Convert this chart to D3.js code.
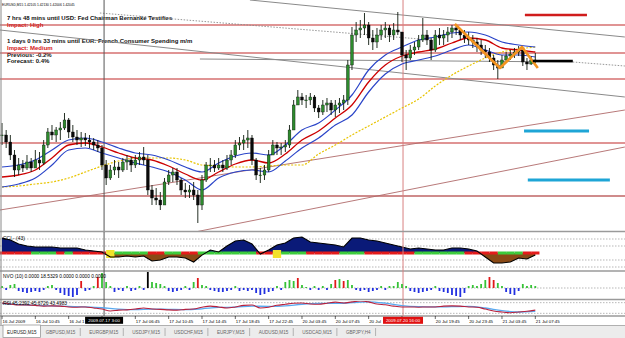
<!DOCTYPE html>
<html><head><meta charset="utf-8">
<script src="https://cdn.jsdelivr.net/npm/d3@7"></script>
<style>body{margin:0;background:#fff;overflow:hidden}svg{display:block}</style>
</head><body>
<script>
// ---------------- DATA ----------------
const symbolTitle = "EURUSD,M15  1.42105 1.42130 1.42006 1.42045";
const eventNotes = [
  ["7 hrs 48 mins until USD: Fed Chairman Bernanke Testifies", "Impact: High"],
  ["1 days 0 hrs 33 mins until EUR: French Consumer Spending m/m", "Impact: Medium", "Previous: -0.2%", "Forecast: 0.4%"]
];
// 30-minute bars (index 0..128)
const barHigh = [1.4143,1.4136,1.4131,1.4116,1.4108,1.4106,1.4111,1.4108,1.4116,1.4114,
1.4126,1.4138,1.4141,1.4139,1.4144,1.4153,1.4148,1.4141,1.4136,1.4134,
1.4133,1.4131,1.4128,1.4126,1.4121,1.4106,1.4101,1.4106,1.4104,1.4108,
1.4111,1.4109,1.4111,1.4114,1.4119,1.4111,1.4081,1.4078,1.4074,1.4088,
1.4096,1.4098,1.4098,1.4088,1.4083,1.4081,1.4084,1.4076,1.4091,1.4104,
1.4108,1.4106,1.4108,1.4106,1.4111,1.4116,1.4126,1.4129,1.4131,1.4136,
1.4131,1.4108,1.4098,1.4101,1.4116,1.4126,1.4124,1.4123,1.4126,1.4141,
1.4166,1.4176,1.4173,1.4171,1.4173,1.4171,1.4161,1.4166,1.4168,1.4166,
1.4166,1.4168,1.4171,1.4206,1.4239,1.4244,1.4246,1.4253,1.4244,1.4236,
1.4238,1.4241,1.4244,1.4241,1.4243,1.4254,1.4226,1.4216,1.4221,1.4224,
1.4231,1.4248,1.4236,1.4228,1.4236,1.4238,1.4236,1.4239,1.4241,1.4242,
1.4238,1.4236,1.4234,1.4231,1.4228,1.4226,1.4221,1.4218,1.4211,1.4206,
1.4211,1.4214,1.4216,1.4218,1.4220,1.4216,1.4208,1.4210,1.4213];
const barLow = [1.4121,1.4118,1.4106,1.4089,1.4091,1.4094,1.4096,1.4094,1.4098,1.4096,
1.4101,1.4118,1.4126,1.4124,1.4126,1.4136,1.4128,1.4124,1.4121,1.4119,
1.4120,1.4118,1.4116,1.4114,1.4096,1.4081,1.4086,1.4091,1.4088,1.4094,
1.4096,1.4094,1.4098,1.4101,1.4101,1.4071,1.4061,1.4061,1.4056,1.4061,
1.4081,1.4084,1.4081,1.4071,1.4068,1.4068,1.4066,1.4043,1.4056,1.4084,
1.4094,1.4094,1.4096,1.4094,1.4096,1.4101,1.4108,1.4116,1.4116,1.4118,
1.4101,1.4086,1.4083,1.4086,1.4094,1.4111,1.4111,1.4111,1.4114,1.4118,
1.4136,1.4161,1.4161,1.4158,1.4161,1.4154,1.4148,1.4151,1.4154,1.4151,
1.4149,1.4153,1.4156,1.4161,1.4196,1.4224,1.4228,1.4231,1.4221,1.4216,
1.4218,1.4226,1.4228,1.4224,1.4226,1.4231,1.4204,1.4196,1.4206,1.4211,
1.4216,1.4224,1.4221,1.4206,1.4214,1.4221,1.4221,1.4224,1.4228,1.4231,
1.4226,1.4223,1.4221,1.4218,1.4214,1.4211,1.4208,1.4204,1.4196,1.4187,
1.4198,1.4204,1.4206,1.4208,1.4210,1.4200,1.4196,1.4201,1.4203];
const barClose = [1.4131,1.4124,1.4111,1.4096,1.4101,1.4098,1.4104,1.4098,1.4106,1.4103,
1.4121,1.4134,1.4131,1.4136,1.4138,1.4146,1.4134,1.4129,1.4126,1.4128,
1.4126,1.4124,1.4121,1.4118,1.4101,1.4088,1.4096,1.4099,1.4096,1.4104,
1.4106,1.4101,1.4106,1.4109,1.4106,1.4076,1.4068,1.4066,1.4061,1.4084,
1.4091,1.4094,1.4086,1.4076,1.4074,1.4076,1.4071,1.4061,1.4086,1.4101,
1.4101,1.4098,1.4101,1.4098,1.4106,1.4111,1.4121,1.4123,1.4126,1.4128,
1.4106,1.4091,1.4091,1.4096,1.4111,1.4121,1.4118,1.4119,1.4121,1.4136,
1.4161,1.4169,1.4166,1.4166,1.4169,1.4158,1.4154,1.4161,1.4163,1.4156,
1.4161,1.4163,1.4166,1.4201,1.4231,1.4236,1.4238,1.4241,1.4228,1.4224,
1.4231,1.4236,1.4238,1.4231,1.4236,1.4234,1.4211,1.4208,1.4216,1.4219,
1.4226,1.4231,1.4226,1.4216,1.4231,1.4228,1.4231,1.4234,1.4238,1.4236,
1.4231,1.4228,1.4226,1.4224,1.4221,1.4216,1.4214,1.4208,1.4201,1.4198,
1.4206,1.4210,1.4212,1.4214,1.4216,1.4204,1.4202,1.4206,1.4205];
// moving averages, one value every 4 bars
const maUpper = [1.4099,1.4101,1.4106,1.4116,1.4126,1.4128,1.4124,1.4118,1.4113,1.4111,1.4106,1.4099,1.4094,1.4103,1.4110,1.4113,1.4111,1.4121,1.4136,1.4143,1.4156,1.4171,1.4196,1.4211,1.4219,1.4226,1.4229,1.4233,1.4234,1.4231,1.4224,1.4221,1.4219];
const maMid = [1.4089,1.4091,1.4096,1.4108,1.4121,1.4123,1.4119,1.4113,1.4108,1.4106,1.4100,1.4092,1.4086,1.4094,1.4102,1.4106,1.4103,1.4112,1.4126,1.4135,1.4148,1.4161,1.4184,1.4201,1.4210,1.4214,1.4217,1.4223,1.4228,1.4226,1.4218,1.4216,1.4214];
const maLower = [1.4079,1.4082,1.4088,1.4101,1.4116,1.4118,1.4113,1.4108,1.4103,1.4099,1.4094,1.4086,1.4076,1.4088,1.4094,1.4096,1.4094,1.4105,1.4118,1.4128,1.4141,1.4151,1.4174,1.4192,1.4202,1.4206,1.4210,1.4216,1.4221,1.4216,1.4211,1.4211,1.4209];
const maSlow = [1.4079,1.4080,1.4082,1.4084,1.4088,1.4094,1.4100,1.4105,1.4108,1.4108,1.4108,1.4106,1.4101,1.4100,1.4099,1.4099,1.4100,1.4101,1.4101,1.4112,1.4121,1.4131,1.4140,1.4149,1.4158,1.4167,1.4180,1.4191,1.4200,1.4208,1.4214,1.4217,1.4219];
// horizontal levels and drawn objects (bar index, price)
const levels = [1.4241, 1.4213, 1.4187, 1.4123, 1.4070];
const grayTrends = [[-0.5,1.4236,149.5,1.4169],[59.5,1.4266,149.5,1.4229],[47.5,1.4207,137,1.4204]];
const dottedTrends = [[23.5,1.4253,100.3,1.4227],[137,1.4204,149.5,1.4200]];
const roseTrends = [[-0.5,1.4056,149.5,1.4156],[45.1,1.4033,149.5,1.4119]];
const zigzagIdx = [108.7, 119.5, 124.8, 128.6];
const zigzagPrice = [1.4242, 1.4198, 1.4219, 1.4198];
const redMarks = [[125.5, 140.4, 1.4251]];
const blueMarks = [[125.3, 140.9, 1.4135], [126.2, 145.9, 1.4086]];
const priceMarks = [[127.4, 137, 1.4205]];
const crossIdx = 24.5, crossLabel = "2009.07.17 3:00";
const eventIdx = 96.25, eventLabel = "2009.07.20 16:00";
// CCI(43), one value every 2 bars, and zero-line signal colours
const cciLabel = "CCI - (43)";
const cci = [214,186,129,100,86,86,86,71,71,71,43,29,14,-57,-57,-43,-57,-43,-114,-100,
-57,-57,-71,-129,-30,43,14,100,171,186,129,-14,43,114,143,214,229,157,143,129,
114,86,214,214,186,171,143,114,86,57,71,57,43,43,71,71,57,29,-57,-143,
-143,-129,-71,-86,-29];
const cciSignal = "rrrr ggg r g rrrr y gggg rr gg rr ggggggg rr y ggg rrrr ggg rrrrrr gggggg rrrr ggg rr".replace(/ /g, "");
// NVO(10) histogram, one value per bar
const nvoLabel = "NVO (10) 0.0000 18.5329 0.0000 0.0000 0.0000";
const nvo = [2,-2,3,4,-3,-4,-5,-4,-3,-4, -2,2,3,-2,-5,-7,-8,-9,-7,7, -3,-2,2,11,15,6,2,-4,-2,-3,
2,-3,-2,2,-2,17,6,5,4,2, -3,-4,-3,-2,2,-2,6,10,3,2, -2,-3,-4,-4,-3,-2,2,-3,-2,-3,
-2,-5,-7,-6,-4,-3,2,-2,6,8, 7,10,3,1,-2,2,-2,2,-2,4, 8,9,7,8,3,-2,-3,-2,-4,-3,
-2,2,-2,2,2,6,4,2,-3,-4, -5,-4,-3,-2,2,-3,-4,-5,-7,-8, -9,-5,2,3,2,4,8,11,8,5,
2,-4,-6,-7,-3,4,2,3,2];
const nvoRedBars = [19,23,47,71,80,82,117,118];
const nvoBlackBars = [35];
// RSI, one value every 2 bars; signal one value every 4 bars
const rsiLabel = "RSI 45.2392 45.6726 43.4983";
const rsi = [69,65,61,61,60,57,58,57,54,53,54,50,46,39,42,43,46,50,46,45,43,42,45,46,53,57,54,50,54,60,
61,50,53,60,64,68,69,65,64,68,72,69,73,76,73,65,62,57,54,54,53,54,54,57,58,57,54,53,46,39,35,32,35,38,42];
const rsiSignal = [67,63,60,58,56,54,51,46,44,46,45,44,47,52,53,57,56,58,64,67,67,70,73,68,59,55,54,55,56,50,40,35,37];
// time axis, a label every 8 bars
const timeLabels = ["16 Jul 2009","16 Jul 10:45","16 Jul 14:45","16 Jul 18:45","17 Jul 06:45","17 Jul 10:45","17 Jul 14:45","17 Jul 18:45","17 Jul 22:45","20 Jul 03:45","20 Jul 07:45","20 Jul 11:45","20 Jul 15:45","20 Jul 19:45","20 Jul 23:45","21 Jul 03:45","21 Jul 07:45"];
const tabs = ["EURUSD,M15","GBPUSD,M15","EURGBP,M15","USDJPY,M15","USDCHF,M15","EURJPY,M15","AUDUSD,M15","USDCAD,M15","GBPJPY,H4"];

// ---------------- DRAW ----------------
const W = 625, H = 338;
const font = "'Liberation Sans', Arial, sans-serif";
const svg = d3.select("body").append("svg").attr("width", W).attr("height", H).style("font-family", font);
svg.append("rect").attr("width", W).attr("height", H).attr("fill", "#fff");

const x = d3.scaleLinear().domain([0, 128]).range([2, 535.3]);
const y = d3.scaleLinear().domain([1.4036, 1.4266]).range([230, 0]);
const yC = d3.scaleLinear().domain([-200, 200]).range([267, 239]);
const yN = d3.scaleLinear().domain([-10, 17]).range([298, 271]);
const yR = d3.scaleLinear().domain([20, 80]).range([316, 300]);

const defs = svg.append("defs");
function clip(id, x0, y0, w, h) {
  defs.append("clipPath").attr("id", id).append("rect").attr("x", x0).attr("y", y0).attr("width", w).attr("height", h);
}
clip("cMain", 0, 0, W, 231); clip("cCci", 0, 233, W, 37); clip("cNvo", 0, 272, W, 27); clip("cRsi", 0, 301, W, 15);
clip("cPos", 0, 233, W, yC(0) - 233); clip("cNeg", 0, yC(0), W, 270 - yC(0));

// ---- main panel ----
const gM = svg.append("g").attr("clip-path", "url(#cMain)");
gM.append("text").attr("x", 2).attr("y", 5.5).attr("font-size", 3.3).attr("fill", "#000").text(symbolTitle);
let ty = [20, 43];
eventNotes.forEach((block, b) => {
  block.forEach((t, j) => {
    gM.append("text").attr("x", 7).attr("y", ty[b] + j * 6.8)
      .attr("font-size", 6).attr("font-weight", "bold")
      .attr("fill", t.startsWith("Impact") ? "#d42020" : "#111").text(t);
  });
});
// levels
gM.selectAll(".lvl").data(levels).join("line")
  .attr("x1", 0).attr("x2", W).attr("y1", d => y(d)).attr("y2", d => y(d))
  .attr("stroke", (d, i) => i === levels.length - 1 ? "#a01818" : "#c22a2a").attr("stroke-width", 1.2);
// trend lines
const tl = (sel, data, color, w, dash) => sel.selectAll(null).data(data).join("line")
  .attr("x1", d => x(d[0])).attr("y1", d => y(d[1])).attr("x2", d => x(d[2])).attr("y2", d => y(d[3]))
  .attr("stroke", color).attr("stroke-width", w).attr("stroke-dasharray", dash);
tl(gM, grayTrends, "#8a8a8a", 1, null);
tl(gM, dottedTrends, "#8a8a8a", 0.9, "1.5,1.5");
tl(gM, roseTrends, "#b06a6a", 0.9, null);
// vertical lines
gM.append("line").attr("x1", x(crossIdx)).attr("x2", x(crossIdx)).attr("y1", 0).attr("y2", 231).attr("stroke", "#555").attr("stroke-width", 1);
gM.append("line").attr("x1", x(eventIdx)).attr("x2", x(eventIdx)).attr("y1", 0).attr("y2", 231).attr("stroke", "#d88080").attr("stroke-width", 1);
// MAs
const maLine = d3.line().x((d, k) => x(k * 4)).y(d => y(d)).curve(d3.curveMonotoneX);
gM.append("path").attr("d", maLine(maSlow)).attr("fill", "none").attr("stroke", "#e8c400").attr("stroke-width", 1.2).attr("stroke-dasharray", "2,1.5");
gM.append("path").attr("d", maLine(maUpper)).attr("fill", "none").attr("stroke", "#2a44c8").attr("stroke-width", 1.2);
gM.append("path").attr("d", maLine(maLower)).attr("fill", "none").attr("stroke", "#2a44c8").attr("stroke-width", 1.2);
gM.append("path").attr("d", maLine(maMid)).attr("fill", "none").attr("stroke", "#cc0000").attr("stroke-width", 1.3);
// candles
const bars = barClose.map((c, i) => ({ i, o: i ? barClose[i - 1] : c, h: barHigh[i], l: barLow[i], c }));
gM.selectAll(".wick").data(bars).join("line")
  .attr("x1", d => x(d.i)).attr("x2", d => x(d.i))
  .attr("y1", d => y(Math.max(d.h, d.o, d.c))).attr("y2", d => y(Math.min(d.l, d.o, d.c)))
  .attr("stroke", "#0d1a0d").attr("stroke-width", 0.9);
gM.selectAll(".body").data(bars).join("rect")
  .attr("x", d => x(d.i) - 1.4).attr("width", 2.8)
  .attr("y", d => y(Math.max(d.o, d.c))).attr("height", d => Math.max(0.8, Math.abs(y(d.o) - y(d.c))))
  .attr("fill", d => d.c >= d.o ? "#2d8a2d" : "#0a0a0a").attr("stroke", "#000").attr("stroke-width", 0.35);
// zigzag
gM.append("path").attr("d", d3.line().x(d => x(d[0])).y(d => y(d[1]))(zigzagIdx.map((v, k) => [v, zigzagPrice[k]])))
  .attr("fill", "none").attr("stroke", "#f2931f").attr("stroke-width", 2.6).attr("stroke-linejoin", "round");
// markers
tl(gM, redMarks.map(d => [d[0], d[2], d[1], d[2]]), "#d01c1c", 2.5, null);
tl(gM, blueMarks.map(d => [d[0], d[2], d[1], d[2]]), "#1ea5d6", 3, null);
tl(gM, priceMarks.map(d => [d[0], d[2], d[1], d[2]]), "#000", 2.4, null);

// ---- separators ----
[231.5, 271, 299.5, 316].forEach(v => {
  svg.append("line").attr("x1", 0).attr("x2", W).attr("y1", v).attr("y2", v).attr("stroke", "#9a9a9a").attr("stroke-width", 1.6);
});

// ---- CCI ----
const gC = svg.append("g").attr("clip-path", "url(#cCci)");
[-200, -100, 100, 200].forEach(v => gC.append("line").attr("x1", 0).attr("x2", W).attr("y1", yC(v)).attr("y2", yC(v))
  .attr("stroke", "#9a9a9a").attr("stroke-width", 0.7).attr("stroke-dasharray", "1.5,1.5"));
const cArea = d3.area().x((d, k) => x(k * 2)).y0(yC(0)).y1(d => yC(d)).curve(d3.curveLinear);
gC.append("path").attr("d", cArea(cci)).attr("fill", "#0a1a78").attr("clip-path", "url(#cPos)");
gC.append("path").attr("d", cArea(cci)).attr("fill", "#8a4a16").attr("clip-path", "url(#cNeg)");
const sigColor = { r: "#e41b1b", g: "#3ccc3c", y: "#f2e22a" };
gC.selectAll(".band").data(cci).join("rect")
  .attr("x", (d, k) => x(k * 2 - 1)).attr("width", (d, k) => x(k * 2 + 1) - x(k * 2 - 1))
  .attr("y", (d, k) => cciSignal[k] === "y" ? yC(0) - 3 : yC(0) - 1.5)
  .attr("height", (d, k) => cciSignal[k] === "y" ? 8 : 3)
  .attr("fill", (d, k) => sigColor[cciSignal[k]] || "#3ccc3c");
gC.append("path").attr("d", d3.line().x((d, k) => x(k * 2)).y(d => yC(d))(cci)).attr("fill", "none").attr("stroke", "#000").attr("stroke-width", 1.1);
gC.append("text").attr("x", 3).attr("y", 239.5).attr("font-size", 5).attr("fill", "#000").text(cciLabel);
svg.append("line").attr("x1", x(crossIdx)).attr("x2", x(crossIdx)).attr("y1", 232).attr("y2", 316).attr("stroke", "#555");
svg.append("line").attr("x1", x(eventIdx)).attr("x2", x(eventIdx)).attr("y1", 232).attr("y2", 316).attr("stroke", "#d88080");

// ---- NVO ----
const gN = svg.append("g").attr("clip-path", "url(#cNvo)");
gN.append("line").attr("x1", 0).attr("x2", W).attr("y1", yN(0)).attr("y2", yN(0)).attr("stroke", "#9a9a9a").attr("stroke-width", 0.7).attr("stroke-dasharray", "1.5,1.5");
gN.selectAll(".nv").data(nvo).join("rect")
  .attr("x", (d, i) => x(i) - 0.9).attr("width", 1.8)
  .attr("y", d => yN(Math.max(d, 0))).attr("height", d => Math.abs(yN(d) - yN(0)))
  .attr("fill", (d, i) => d < 0 ? "#2230e0" : nvoBlackBars.includes(i) ? "#000" : nvoRedBars.includes(i) ? "#e01818" : "#36c236");
gN.append("text").attr("x", 3).attr("y", 278).attr("font-size", 4.8).attr("fill", "#000").text(nvoLabel);

// ---- RSI ----
const gR = svg.append("g").attr("clip-path", "url(#cRsi)");
[30, 70].forEach(v => gR.append("line").attr("x1", 0).attr("x2", W).attr("y1", yR(v)).attr("y2", yR(v))
  .attr("stroke", "#9a9a9a").attr("stroke-width", 0.7).attr("stroke-dasharray", "1.5,1.5"));
gR.append("path").attr("d", d3.line().x((d, k) => x(k * 4)).y(d => yR(d)).curve(d3.curveMonotoneX)(rsiSignal))
  .attr("fill", "none").attr("stroke", "#5aaaf0").attr("stroke-width", 1.3);
gR.append("path").attr("d", d3.line().x((d, k) => x(k * 2)).y(d => yR(d)).curve(d3.curveMonotoneX)(rsi))
  .attr("fill", "none").attr("stroke", "#b8203c").attr("stroke-width", 1.1);
gR.append("text").attr("x", 3).attr("y", 305).attr("font-size", 4.8).attr("fill", "#000").text(rsiLabel);

// ---- time axis ----
const gA = svg.append("g");
const flags = [[crossIdx, crossLabel, "#000", 38], [eventIdx, eventLabel, "#e01010", 40]];
const flagBoxes = flags.map(f => [x(f[0]) - f[3] / 2, x(f[0]) + f[3] / 2]);
timeLabels.forEach((t, k) => {
  const px = x(k * 8);
  gA.append("line").attr("x1", px).attr("x2", px).attr("y1", 316).attr("y2", 319).attr("stroke", "#000").attr("stroke-width", 0.6);
  // a label that starts under a flag is hidden; one that runs into a flag is cut at the flag's edge
  if (flagBoxes.some(b => px + 0.5 >= b[0] - 1 && px + 0.5 <= b[1])) return;
  const tx = gA.append("text").attr("x", px + 0.5).attr("y", 322.5).attr("font-size", 4.4).attr("fill", "#000").text(t);
  const box = flagBoxes.find(b => b[0] > px && b[0] < px + 40);
  if (box) {
    let s = t;
    while (s.length && px + 0.5 + tx.node().getComputedTextLength() > box[0] - 0.5) { s = s.slice(0, -1); tx.text(s); }
  }
});
flags.forEach(([idx, label, bg, w]) => {
  const px = x(idx);
  gA.append("rect").attr("x", px - w / 2).attr("y", 316.8).attr("width", w).attr("height", 7).attr("fill", bg);
  gA.append("text").attr("x", px).attr("y", 322.3).attr("text-anchor", "middle").attr("font-size", 4.4).attr("fill", "#fff").text(label);
});

// ---- tab bar ----
const gT = svg.append("g");
gT.append("rect").attr("x", 0).attr("y", 325).attr("width", W).attr("height", 13).attr("fill", "#ececec");
gT.append("line").attr("x1", 0).attr("x2", W).attr("y1", 325.5).attr("y2", 325.5).attr("stroke", "#b0b0b0");
let cx = 3;
tabs.forEach((t, k) => {
  const txt = gT.append("text").attr("x", cx + 4).attr("y", 333.5).attr("font-size", 4.6).attr("fill", k === 0 ? "#222" : "#666").text(t);
  const tw = txt.node().getComputedTextLength();
  if (k === 0) {
    gT.insert("rect", "text").attr("x", cx).attr("y", 325).attr("width", tw + 8).attr("height", 12.5).attr("fill", "#fff").attr("stroke", "#8a8a8a").attr("stroke-width", 0.7);
  } else {
    gT.append("line").attr("x1", cx + tw + 9).attr("x2", cx + tw + 9).attr("y1", 328).attr("y2", 336).attr("stroke", "#9a9a9a").attr("stroke-width", 0.7);
  }
  cx += tw + (k === 0 ? 9 : 14);
});
svg.append("line").attr("x1", 1).attr("x2", 1).attr("y1", 0).attr("y2", 325).attr("stroke", "#8a8a8a").attr("stroke-width", 1);
</script>
</body></html>
